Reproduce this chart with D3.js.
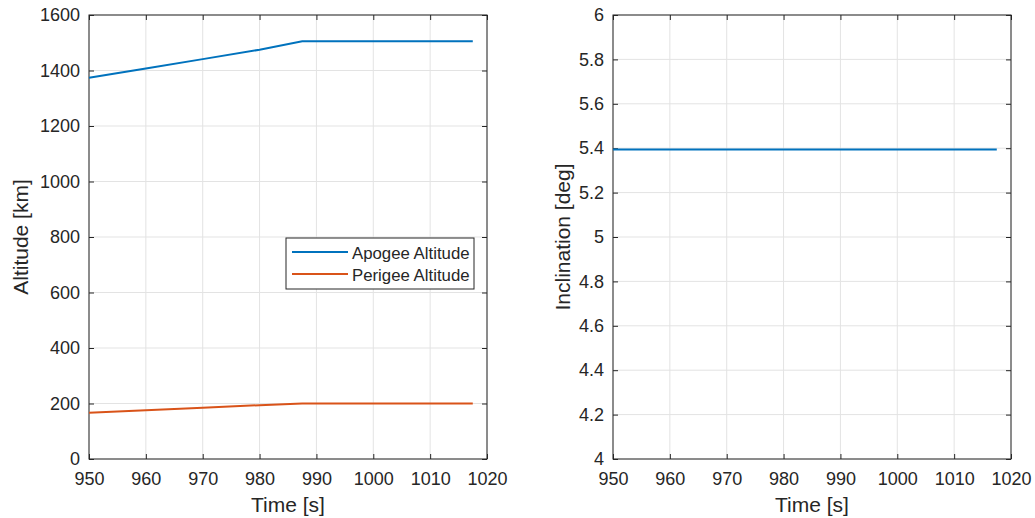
<!DOCTYPE html>
<html><head><meta charset="utf-8">
<script src="https://cdn.jsdelivr.net/npm/d3@7"></script>
<style>body{margin:0;background:#fff;} text{font-family:"Liberation Sans",Arial,sans-serif;fill:#262626;}</style>
</head><body>
<svg id="c" width="1035" height="518"></svg>
<script>
const time = [950, 960, 970, 980, 987.5, 1000, 1010, 1017.5];
const apogee = [1374, 1407, 1441, 1475, 1505, 1505, 1505, 1505];
const perigee = [167, 176, 185, 194, 200, 200, 200, 200];
const inclTime = [950, 960, 970, 980, 990, 1000, 1010, 1017.5];
const inclination = [5.394, 5.394, 5.394, 5.394, 5.394, 5.394, 5.394, 5.394];
const xTicks = [950, 960, 970, 980, 990, 1000, 1010, 1020];
const altTicks = [0, 200, 400, 600, 800, 1000, 1200, 1400, 1600];
const incTicks = [4, 4.2, 4.4, 4.6, 4.8, 5, 5.2, 5.4, 5.6, 5.8, 6];
const seriesNames = ["Apogee Altitude", "Perigee Altitude"];
const colors = ["#0072BD", "#D95319"];

const svg = d3.select("#c");
const axColor = "#262626";
const tickFont = "18px";
const labelFont = "21px";

function panel(x0, x1, y0, y1, yDomain, yTicks, yLabel, yFmt, yLabelX) {
  const x = d3.scaleLinear().domain([950, 1020]).range([x0, x1]);
  const y = d3.scaleLinear().domain(yDomain).range([y1, y0]);
  const g = svg.append("g");
  g.selectAll(".gx").data(xTicks).join("line")
    .attr("x1", d => x(d)).attr("x2", d => x(d)).attr("y1", y0).attr("y2", y1)
    .attr("stroke", "#e3e3e3").attr("stroke-width", 1);
  g.selectAll(".gy").data(yTicks).join("line")
    .attr("y1", d => y(d)).attr("y2", d => y(d)).attr("x1", x0).attr("x2", x1)
    .attr("stroke", "#e3e3e3").attr("stroke-width", 1);
  const ax = (sel, axis) => { sel.call(axis); sel.select(".domain").remove(); sel.selectAll("line").attr("stroke", axColor); sel.selectAll("text").attr("fill", axColor).style("font-size", tickFont).style("font-family", '"Liberation Sans",Arial,sans-serif'); };
  g.append("g").attr("transform", `translate(0,${y1})`)
    .call(s => ax(s, d3.axisBottom(x).tickValues(xTicks).tickSize(-5).tickPadding(13).tickFormat(d3.format("d"))));
  g.append("g").attr("transform", `translate(0,${y0})`)
    .call(s => ax(s, d3.axisTop(x).tickValues(xTicks).tickSize(-5).tickFormat("")));
  g.append("g").attr("transform", `translate(${x0},0)`)
    .call(s => ax(s, d3.axisLeft(y).tickValues(yTicks).tickSize(-5).tickPadding(9).tickFormat(yFmt)));
  g.append("g").attr("transform", `translate(${x1},0)`)
    .call(s => ax(s, d3.axisRight(y).tickValues(yTicks).tickSize(-5).tickFormat("")));
  g.append("rect").attr("x", x0).attr("y", y0).attr("width", x1 - x0).attr("height", y1 - y0)
    .attr("fill", "none").attr("stroke", axColor).attr("stroke-width", 1);
  g.append("text").attr("x", (x0 + x1) / 2).attr("y", 512).attr("text-anchor", "middle")
    .style("font-size", labelFont).text("Time [s]");
  g.append("text").attr("transform", `translate(${yLabelX},${(y0 + y1) / 2}) rotate(-90)`)
    .attr("text-anchor", "middle").style("font-size", labelFont).text(yLabel);
  return {x, y, g};
}

const L = panel(89, 487, 15, 459, [0, 1600], altTicks, "Altitude [km]", d3.format("d"), 28);
[apogee, perigee].forEach((vals, i) => {
  L.g.append("path").datum(time.map((t, j) => [t, vals[j]]))
    .attr("d", d3.line().x(d => L.x(d[0])).y(d => L.y(d[1])))
    .attr("fill", "none").attr("stroke", colors[i]).attr("stroke-width", 2);
});
const lg = L.g.append("g");
lg.append("rect").attr("x", 286).attr("y", 238).attr("width", 188).attr("height", 51)
  .attr("fill", "#fff").attr("stroke", axColor).attr("stroke-width", 1);
seriesNames.forEach((n, i) => {
  const yy = 252 + i * 22;
  lg.append("line").attr("x1", 292).attr("x2", 348).attr("y1", yy).attr("y2", yy)
    .attr("stroke", colors[i]).attr("stroke-width", 2);
  lg.append("text").attr("x", 352).attr("y", yy + 7).style("font-size", "16.8px").text(n);
});

const R = panel(613, 1011, 15, 459, [4, 6], incTicks, "Inclination [deg]", d => d3.format("")(+d.toFixed(1)), 570);
R.g.append("path").datum(inclTime.map((t, j) => [t, inclination[j]]))
  .attr("d", d3.line().x(d => R.x(d[0])).y(d => R.y(d[1])))
  .attr("fill", "none").attr("stroke", colors[0]).attr("stroke-width", 2);
</script>
</body></html>
